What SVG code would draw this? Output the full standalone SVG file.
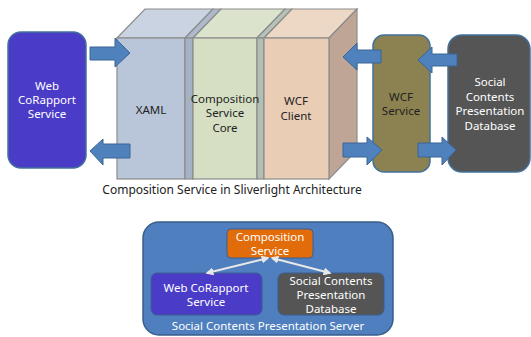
<svg xmlns="http://www.w3.org/2000/svg" width="531" height="337" viewBox="0 0 531 337">
<style>
text{font-family:"Noto Sans","Open Sans","DejaVu Sans",sans-serif;font-size:11.5px;text-anchor:middle}
.w{fill:#ffffff}
.d{fill:#222222}
.arr{fill:#4F81BD;stroke:#3A6595;stroke-width:1}
.face{stroke:#8C8C8C;stroke-width:1.2}
.box{stroke:#41719C;stroke-width:1.5}
.link{stroke:#E8E8E8;stroke-width:2;fill:none}
</style>
<defs>
<marker id="ah" viewBox="0 0 10 10" refX="8" refY="5" markerWidth="4" markerHeight="4" orient="auto-start-reverse">
<path d="M0,0 L10,5 L0,10 z" fill="#E8E8E8"/>
</marker>
</defs>
<rect width="531" height="337" fill="#ffffff"/>

<g id="web-corapport">
<rect class="box" x="8" y="32" width="78" height="136" rx="13" fill="#4B3CC8"/>
<text class="w" x="47" y="90">Web</text>
<text class="w" x="47" y="104">CoRapport</text>
<text class="w" x="47" y="118">Service</text>
</g>

<g id="silverlight-cube">
<polygon class="face" points="117,38 145,9 213,9 185,38" fill="#C9D3E1"/>
<polygon class="face" points="185,38 213,9 221,9 193,38" fill="#AEBACB"/>
<polygon class="face" points="193,38 221,9 285,9 257,38" fill="#DCE3CD"/>
<polygon class="face" points="257,38 285,9 292,9 264,38" fill="#B6C3B9"/>
<polygon class="face" points="264,38 292,9 357,9 329,38" fill="#EDD8C5"/>
<polygon class="face" points="329,38 357,9 357,150 329,179" fill="#BFA595"/>
<rect class="face" x="117" y="38" width="68" height="141" fill="#B9C6D9"/>
<rect class="face" x="185" y="38" width="8" height="141" fill="#A5B2C5"/>
<rect class="face" x="193" y="38" width="64" height="141" fill="#D6DFC4"/>
<rect class="face" x="257" y="38" width="7" height="141" fill="#B1BFB2"/>
<rect class="face" x="264" y="38" width="65" height="141" fill="#EACDB5"/>
<text class="d" x="151" y="114">XAML</text>
<text class="d" x="225" y="103">Composition</text>
<text class="d" x="225" y="117">Service</text>
<text class="d" x="225" y="132">Core</text>
<text class="d" x="296" y="105">WCF</text>
<text class="d" x="296" y="120">Client</text>
</g>

<g id="wcf-service">
<rect class="box" x="373" y="35" width="57" height="137" rx="11" fill="#8C8150"/>
<text class="d" x="401" y="101">WCF</text>
<text class="d" x="401" y="115">Service</text>
</g>

<g id="social-db">
<rect class="box" x="448" y="35" width="82" height="137" rx="14" fill="#555555"/>
<text class="w" x="490" y="86">Social</text>
<text class="w" x="490" y="101">Contents</text>
<text class="w" x="490" y="115">Presentation</text>
<text class="w" x="490" y="130">Database</text>
</g>

<text class="d" x="232" y="194" style="font-size:12px">Composition Service in Sliverlight Architecture</text>

<g id="server">
<rect x="143" y="222" width="250" height="113" rx="16" fill="#4F7FBE" stroke="#385D8A" stroke-width="1.5"/>
<text class="w" x="268" y="330">Social Contents Presentation Server</text>
</g>

<g id="composition-service">
<rect x="227" y="229" width="86" height="29" rx="4" fill="#E36C0A" stroke="#3A5F8F" stroke-width="1"/>
<text class="w" x="270" y="241">Composition</text>
<text class="w" x="270" y="255">Service</text>
</g>

<g id="web-corapport-service">
<rect x="151" y="273" width="111" height="42" rx="6" fill="#4B3CC8" stroke="#3A5F8F" stroke-width="1"/>
<text class="w" x="206" y="292">Web CoRapport</text>
<text class="w" x="206" y="306">Service</text>
</g>

<g id="social-contents-db">
<rect x="278" y="273" width="106" height="42" rx="6" fill="#555555" stroke="#3A5F8F" stroke-width="1"/>
<text class="w" x="331" y="285">Social Contents</text>
<text class="w" x="331" y="299">Presentation</text>
<text class="w" x="331" y="313">Database</text>
</g>

<g id="connectors">
<polygon class="arr" points="90,47 115,47 115,38 130,53 115,67 115,60 90,60"/>
<polygon class="arr" points="130,144 103,144 103,139 90,151 103,165 103,158 130,158"/>
<polygon class="arr" points="381,50 357,50 357,43 343,57 357,70 357,63 381,63"/>
<polygon class="arr" points="457,54 432,54 432,47 418,60 432,73 432,66 457,66"/>
<polygon class="arr" points="343,143 367,143 367,137 382,150 367,165 367,157 343,157"/>
<polygon class="arr" points="418,143 442,143 442,137 456,150 442,165 442,157 418,157"/>
<line class="link" x1="268" y1="258" x2="207" y2="273" marker-start="url(#ah)" marker-end="url(#ah)"/>
<line class="link" x1="272" y1="258" x2="330" y2="273" marker-start="url(#ah)" marker-end="url(#ah)"/>
</g>
</svg>
